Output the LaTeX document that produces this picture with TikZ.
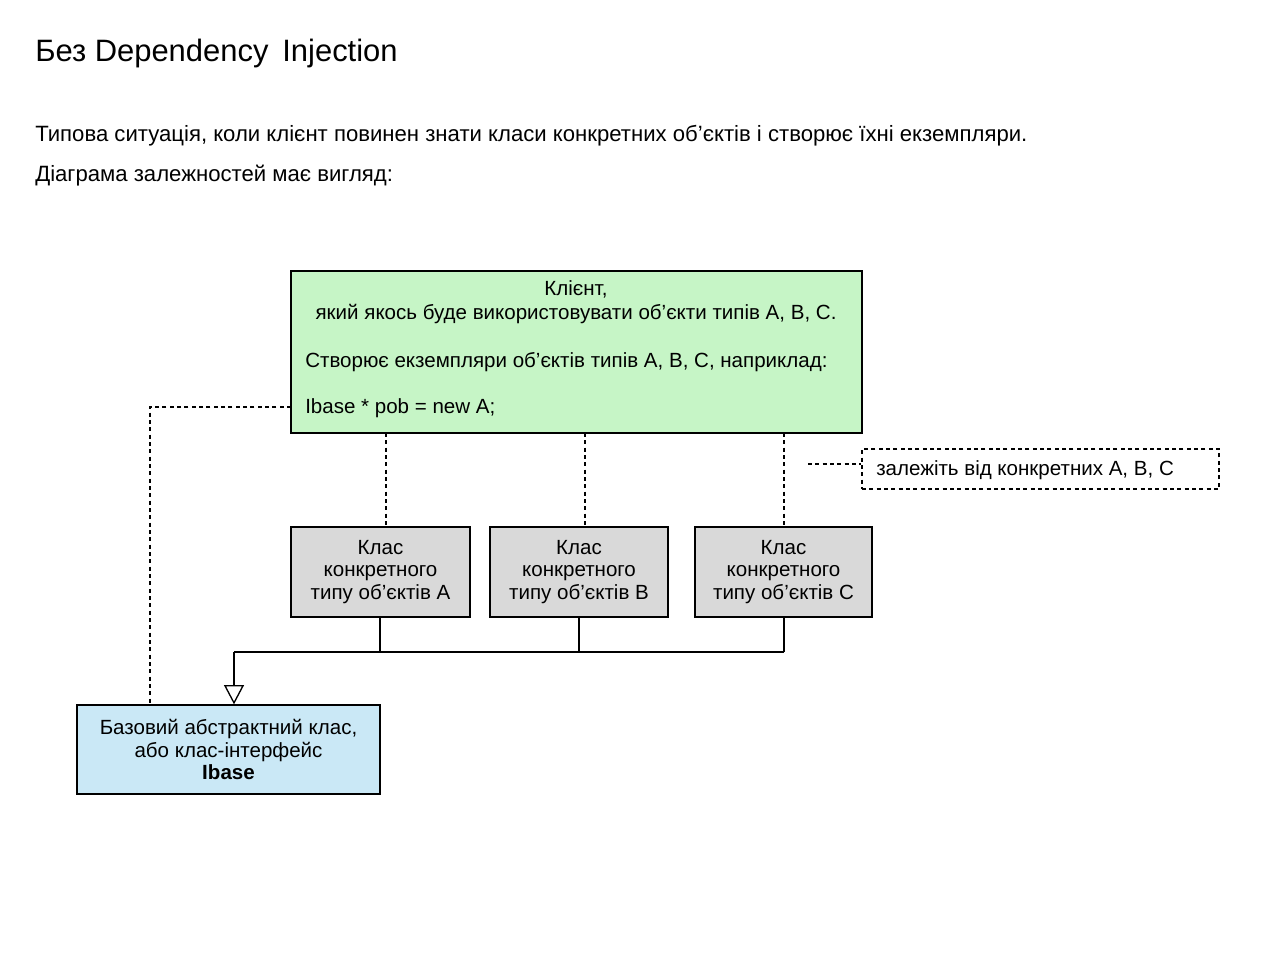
\documentclass[tikz,border=0pt]{standalone}
\usepackage{fontspec}
\setmainfont{Liberation Sans}
\usetikzlibrary{arrows.meta,fit}
\definecolor{clientgreen}{RGB}{198,245,198}
\definecolor{classgray}{RGB}{217,217,217}
\definecolor{baseblue}{RGB}{202,232,246}
\tikzset{
  box/.style={draw=black, line width=1pt, inner sep=0pt},
  dep/.style={draw=black, line width=0.9pt, dash pattern=on 3pt off 2.5pt},
  gen/.style={draw=black, line width=1pt},
  txt/.style={inner sep=0pt, font=\fontsize{15.4}{17}\selectfont},
  ctxt/.style={txt, align=center},
}
\begin{document}
\begin{tikzpicture}[x=0.75pt,y=-0.75pt]
\useasboundingbox[fill=white] (0,0) rectangle (1280,955);
% header
\node[anchor=base west, inner sep=0pt, font=\fontsize{23.2}{27}\selectfont] (title) at (35,62) {Без Dependency\hspace{0.45em}Injection};
\node[inner sep=0pt, font=\fontsize{16.6}{20}\selectfont, anchor=base west] (intro1) at (35,142) {Типова ситуація, коли клієнт повинен знати класи конкретних об’єктів і створює їхні екземпляри.};
\node[inner sep=0pt, font=\fontsize{16.6}{20}\selectfont, anchor=base west] (intro2) at (35,182) {Діаграма залежностей має вигляд:};
% boxes
\node[box, fill=clientgreen, fit={(291,271) (862,433)}] (client) {};
\node[ctxt, anchor=base] (cl1) at (576,296) {Клієнт,};
\node[ctxt, anchor=base] (cl2) at (576,320) {який якось буде використовувати об’єкти типів A, B, C.};
\node[txt, anchor=base west] (cl3) at (305,367) {Створює екземпляри об’єктів типів A, B, C, наприклад:};
\node[txt, anchor=base west] (cl4) at (305,413) {Ibase * pob = new A;};
\node[box, fill=classgray, fit={(291,527) (470,617)}] (clsA) {};
\node[ctxt] (tA) at (clsA.center) {Клас\\конкретного\\типу об’єктів A};
\node[box, fill=classgray, fit={(490,527) (668,617)}] (clsB) {};
\node[ctxt] (tB) at (clsB.center) {Клас\\конкретного\\типу об’єктів B};
\node[box, fill=classgray, fit={(695,527) (872,617)}] (clsC) {};
\node[ctxt] (tC) at (clsC.center) {Клас\\конкретного\\типу об’єктів C};
\node[box, fill=baseblue, fit={(77,705) (380,794)}] (base) {};
\node[ctxt] (tBase) at (base.center) {Базовий абстрактний клас,\\або клас-інтерфейс\\\textbf{Ibase}};
\node[box, dep, fit={(862,449) (1219,489)}] (note) {};
\node[txt, anchor=base west] (tNote) at (876,475) {залежіть від конкретних A, B, C};
% dependencies
\coordinate (dA) at (386,433);
\coordinate (dB) at (585,433);
\coordinate (dC) at (784,433);
\draw[dep] (dA) -- (dA |- clsA.north);
\draw[dep] (dB) -- (dB |- clsB.north);
\draw[dep] (dC) -- (dC |- clsC.north);
\coordinate (cleft) at (291,407);
\coordinate (bcorner) at (150,407);
\draw[dep] (cleft) -- (bcorner) -- (bcorner |- base.north);
\coordinate (nstart) at (808,464);
\draw[dep] (nstart) -- (nstart -| note.west);
% generalization
\coordinate (jA) at (380,652);
\coordinate (jB) at (579,652);
\coordinate (jC) at (784,652);
\coordinate (jBase) at (234,652);
\draw[gen] (clsA.south -| jA) -- (jA);
\draw[gen] (clsB.south -| jB) -- (jB);
\draw[gen] (clsC.south -| jC) -- (jC);
\draw[gen] (jC) -- (jBase);
\draw[gen, -{Triangle[open, width=15pt, length=14.5pt]}] (jBase) -- (jBase |- base.north);
\end{tikzpicture}
\end{document}
